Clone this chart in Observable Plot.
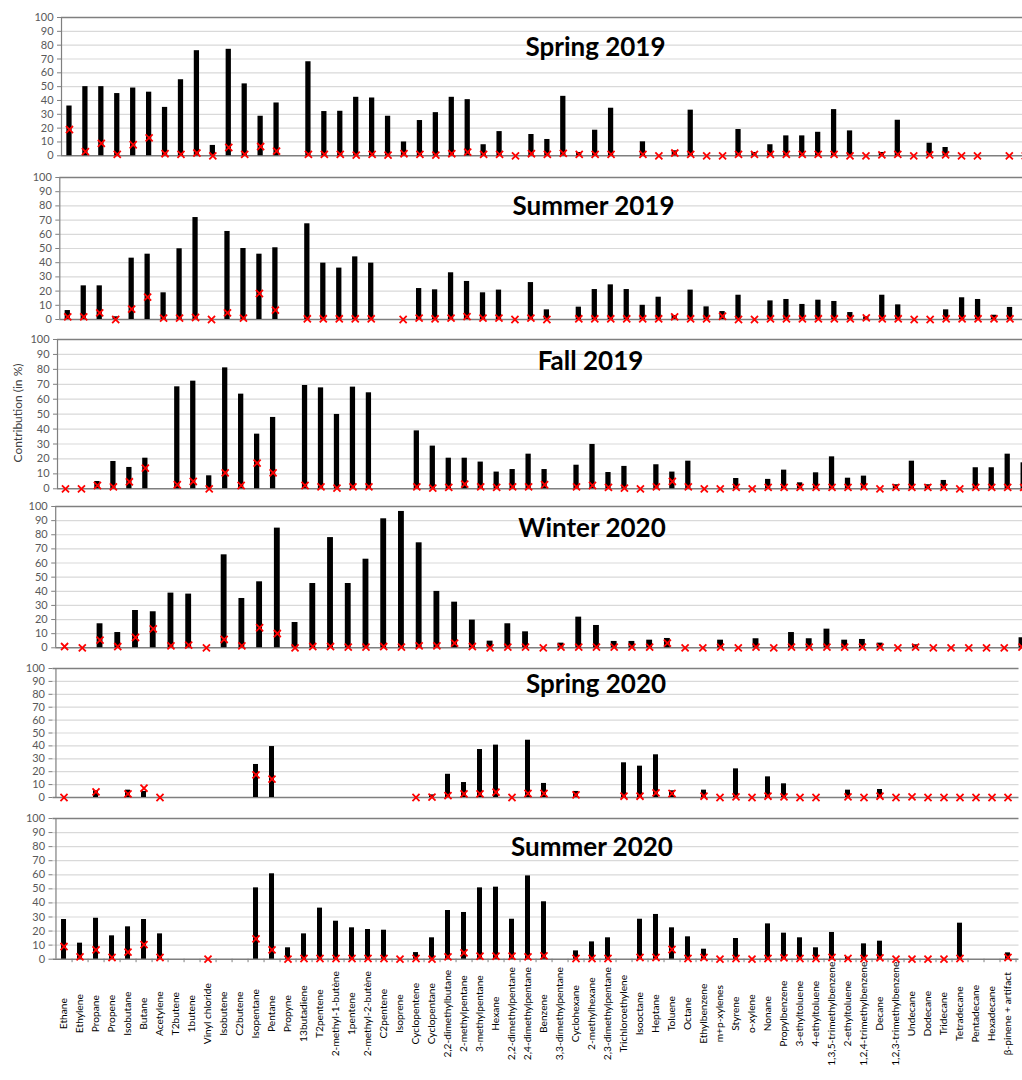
<!DOCTYPE html>
<html>
<head>
<meta charset="utf-8">
<script src="https://cdn.jsdelivr.net/npm/d3@7"></script>
<script src="https://cdn.jsdelivr.net/npm/@observablehq/plot@0.6"></script>
<style>
html, body { margin: 0; padding: 0; background: #fff; overflow: hidden; width: 1022px; height: 1080px; }
#fig { position: relative; width: 1022px; height: 1080px; overflow: hidden; font-family: Lato, "Open Sans", sans-serif; }
.panel { position: absolute; left: 0; }
#ylab { position: absolute; left: 17.5px; top: 413px; transform: translate(-50%, -50%) rotate(-90deg); white-space: nowrap; font-size: 12px; line-height: 1; color: #404040; font-family: Lato, sans-serif; }
</style>
</head>
<body>
<div id="fig"><div id="ylab">Contribution (in %)</div></div>
<script>
// ---------------- DATA ----------------
// Category labels of the two 2020 panels (only the bottom panel shows them)
const compounds = ["Ethane","Ethylene","Propane","Propene","Isobutane","Butane","Acetylene","T2butene","1butene","Vinyl chloride","Isobutene","C2butene","Isopentane","Pentane","Propyne","13butadiene","T2pentene","2-methyl-1-butène","1pentene","2-methyl-2-butène","C2pentene","Isoprene","Cyclopentene","Cyclopentane","2,2-dimethylbutane","2-methylpentane","3-methylpentane","Hexane","2,2-dimethylpentane","2,4-dimethylpentane","Benzene","3,3-dimethylpentane","Cyclohexane","2-methylhexane","2,3-dimethylpentane","Trichloroethylene","Isooctane","Heptane","Toluene","Octane","Ethylbenzene","m+p-xylenes","Styrene","o-xylene","Nonane","Propylbenzene","3-ethyltoluene","4-ethyltoluene","1,3,5-trimethylbenzene","2-ethyltoluene","1,2,4-trimethylbenzene","Decane","1,2,3-trimethylbenzene","Undecane","Dodecane","Tridecane","Tetradecane","Pentadecane","Hexadecane","β-pinene + artifact"];

const panelTitles = ["Spring 2019","Summer 2019","Fall 2019","Winter 2020","Spring 2020","Summer 2020"];
const yTicks = [0,10,20,30,40,50,60,70,80,90,100];

// Spring 2019 (61 categories, last one cropped at the right edge); null = nothing drawn
const spring2019Bars = [36,50,50,45,49,46,35,55,76,7.5,77,52,28.6,38.2,null,68,32,32.2,42.3,41.8,28.6,10,25.5,31.2,42.3,40.6,8,17.5,null,15.4,11.8,43,2.4,18.5,34.4,null,10.1,null,3.6,33,null,null,19,2.4,8,14.4,14.4,17,33.4,18,null,2.4,25.7,null,9.1,6,null,null,null,null,null];
const spring2019Marks = [19,3,9,1,8,13,1.5,1,2,0,6,1,6.7,3.4,null,1,1,1,0.5,1,0.5,1.5,1,0.5,1.5,2.6,1,1,0,1.5,1,1.7,1,1,1,null,1,0,2,1,0,0,1,1,1,1,1,1,1,0,0,0.7,1,0,0.7,0.7,0,0,null,0,0];

// Summer 2019 (61 categories)
const summer2019Bars = [6.3,23.7,23.7,1.9,43.2,46,18.8,49.8,71.8,null,62,50,46,50.5,null,67.4,39.7,36.2,44.1,39.7,null,null,21.8,20.9,32.9,26.8,18.8,20.7,null,26,6.8,null,8.7,21.1,24.4,21.1,10,15.7,2.8,20.7,8.9,5.6,17.1,null,13.1,14.1,10.6,13.6,12.7,4.9,1.9,17.1,10.3,null,null,6.8,15.3,14.1,3,8.5,null];
const summer2019Marks = [1.9,1.9,4.7,0,7.3,15.7,1,1,1.4,0,4.7,1,18.3,6.6,null,0.5,0.5,0.5,0.5,0.5,null,0,1,0.5,1,2,1,1,0,1,0,null,0.5,0.5,0.5,0.5,0.5,0.5,1.9,0.5,0.5,2.3,0,0,0.5,0.5,0.5,0.5,0.5,0.5,1.2,0.5,0.5,0,0,0.5,0.5,0.5,0.5,0.5,0];

// Fall 2019 (61 categories)
const fall2019Bars = [null,null,4.9,18.3,14.3,20.5,null,68.3,72.1,8.7,81,63.4,36.6,47.8,null,69.2,67.6,49.8,68.1,64.3,null,null,38.8,28.6,20.5,20.5,17.9,11.2,12.9,23.2,12.9,null,15.8,29.7,10.9,15,null,16.1,11.2,18.5,null,null,6.9,null,6.3,12.5,4,10.7,21.4,7.1,8.5,null,2.7,18.5,2.7,5.6,null,14.1,14.1,23.2,17.4];
const fall2019Marks = [0,0,2.2,1.3,4.7,13.8,null,2.7,4.9,0,10.7,2.2,17.2,10.7,null,2.2,1.3,0.4,1.3,1.3,null,null,1.3,0.4,0.9,3.1,1.3,0.9,1.3,1.3,2.7,null,1.3,2.2,0.9,0.4,0,1.3,4.9,1.3,0,0,0.9,0,0.9,0.9,0.9,0.9,0.9,0.9,1.3,0,0.9,0.9,0.9,0.9,0,0.9,0.9,0.9,0.9];

// Winter 2020 (55 categories, last one cropped)
const winter2020Bars = [null,null,17,10.8,26.4,25.5,38.7,38,null,65.8,34.9,46.7,84.7,17.9,45.5,78,45.5,62.7,91.3,96.5,74.3,39.9,32.3,19.6,4.7,17,11.3,null,3.3,21.7,15.8,4.5,4.5,5.4,6.6,null,null,5.4,null,6.4,null,10.8,6.4,13.2,5.4,5.9,3.3,null,2.1,null,null,null,null,null,7.1];
const winter2020Marks = [0.9,0,5.4,0.9,7.3,13.4,1.4,1.9,0,5.9,1.4,14.2,10.1,0,0.9,0.9,0.5,0.5,0.9,0.5,1.4,1.4,3.3,0.9,0,0.5,0.5,0,0.5,0.5,0.5,0.5,0.5,0.5,3.3,0,0,0.5,0,0.5,0,0.5,0.5,0.5,0.5,0.5,0.5,0,0.5,0,0,0,0,0,0.5];

// Spring 2020 (same 60 compounds as Summer 2020)
const spring2020Bars = [null,null,5.2,null,5.7,4.7,null,null,null,null,null,null,25.6,39.5,null,null,null,null,null,null,null,null,null,2,18,11.6,37.2,40.6,null,44.4,10.9,null,4.7,null,null,26.9,24.3,33.1,5.2,null,5.7,null,22.2,null,16,10.6,null,null,null,5.7,null,6.2,null,null,null,null,null,null,null,null];
const spring2020Marks = [0,null,4.4,null,2.8,7.2,0,null,null,null,null,null,17.6,14.2,null,null,null,null,null,null,null,null,0,0.3,1.5,2.8,2.8,4.1,0,3.1,3.1,null,2,null,null,1,1,3.6,3.1,null,1,0,0.5,0,1,0.5,0,0,null,0.5,0,1,0,0.5,0,0,0,0,0,0];

// Summer 2020
const summer2020Bars = [28.2,11.4,29.1,16.6,23,28.2,18,null,null,null,null,null,50.7,60.7,8.1,18,36.3,27,22.3,21.1,20.6,null,4.7,15.2,34.6,33.2,50.7,51.2,28.4,59.2,40.8,null,5.9,12.3,15.2,null,28.4,31.8,22.3,15.9,7.1,null,14.7,null,25.1,18.5,15.2,8.1,19,1.4,10.9,12.8,null,null,null,null,25.6,null,null,4.5];
const summer2020Marks = [9,1.7,6.6,1.2,5,10.4,1.2,null,null,0,null,null,14.5,6.6,0,0.5,0.5,0.5,0.5,0.5,0.5,0,0.5,0,1.7,4.5,2.1,2.1,2.1,1.7,2.4,null,0.5,0.5,0.5,null,1.2,1.2,6.9,0.5,1.2,0,0.5,0,0.5,0.9,0.5,0.5,1.2,0.5,0.5,0.9,0,0,0,0,0.5,null,null,1.2];

// ---------------- LAYOUT (pixel geometry only) ----------------
const idx = n => d3.range(n);
const panels = [
  {title: panelTitles[0], bars: spring2019Bars, marks: spring2019Marks, cats: idx(61), y100: 17,    y0: 155.3, left: 61,   step: 15.93, tx: 595,   ty: 47},
  {title: panelTitles[1], bars: summer2019Bars, marks: summer2019Marks, cats: idx(61), y100: 176.7, y0: 318.7, left: 59.3, step: 15.97, tx: 593,   ty: 206},
  {title: panelTitles[2], bars: fall2019Bars,   marks: fall2019Marks,   cats: idx(61), y100: 338.7, y0: 488,   left: 57,   step: 15.97, tx: 590,   ty: 361},
  {title: panelTitles[3], bars: winter2020Bars, marks: winter2020Marks, cats: idx(55), y100: 506,   y0: 647.3, left: 55.2, step: 17.73, tx: 591.5, ty: 528},
  {title: panelTitles[4], bars: spring2020Bars, marks: spring2020Marks, cats: compounds, y100: 667.7, y0: 796.7, left: 52.5, step: 16.1, tx: 595.5, ty: 684},
  {title: panelTitles[5], bars: summer2020Bars, marks: summer2020Marks, cats: compounds, y100: 818.3, y0: 959,   left: 52.5, step: 16.1, tx: 591.5, ty: 847, showX: true}
];

const fig = document.getElementById("fig");
const axisGray = "#7f7f7f";

for (const p of panels) {
  const N = p.cats.length;
  const plotH = p.y0 - p.y100;
  const mt = 10, mb = p.showX ? 125 : 6;
  const plotW = N * p.step;
  const width = Math.ceil(p.left + plotW + 3);
  const rows = p.cats.map((c, i) => ({c, bar: p.bars[i], mark: p.marks[i]}));
  const pxPerUnit = plotH / 100;

  const marks = [
    Plot.gridY({ticks: yTicks.slice(1, -1), stroke: "#d9d9d9", strokeOpacity: 1, strokeWidth: 1.2}),
    Plot.axisY({ticks: yTicks, tickSize: 4, tickPadding: 4, fontSize: 11, label: null, stroke: axisGray, fill: "#595959"}),
    Plot.ruleY([0, 100], {stroke: axisGray, strokeWidth: 1.4}),
    Plot.ruleX([p.cats[0]], {dx: -p.step / 2, y1: 0, y2: 100, stroke: axisGray, strokeWidth: 1.2}),
    Plot.barY(rows.filter(d => d.bar != null), {x: "c", y: "bar", fill: "#000"}),
    Plot.dot(rows.filter(d => d.mark != null), {x: "c", y: "mark", symbol: "times", r: 3.3, stroke: "#ff0000", strokeWidth: 1.8}),
    Plot.text([p.title], {frameAnchor: "top-left", dx: p.tx - p.left, dy: p.ty - p.y100, text: d => d,
      fontSize: 26, fontWeight: "bold", fill: "#000", textAnchor: "middle", lineAnchor: "middle", fontFamily: "Lato"})
  ];
  if (p.showX) {
    marks.push(
      Plot.ruleX(p.cats, {x: d => d, dx: p.step / 2, y1: 0, y2: -3.5 / pxPerUnit, stroke: axisGray}),
      Plot.text(p.cats, {x: d => d, text: d => d, frameAnchor: "bottom", dy: 54.5, rotate: -90,
        textAnchor: "middle", lineAnchor: "middle", fontSize: 10.2, fill: "#000", fontFamily: "Lato"})
    );
  }

  const svg = Plot.plot({
    width,
    height: mt + plotH + mb,
    marginTop: mt,
    marginBottom: mb,
    marginLeft: p.left,
    marginRight: width - p.left - plotW,
    x: {domain: p.cats, paddingInner: 0.67, paddingOuter: 0.335, axis: null},
    y: {domain: [0, 100]},
    style: {background: "transparent", overflow: "visible", maxWidth: "none", color: "#595959", fontFamily: "Lato, sans-serif"},
    marks
  });
  const holder = document.createElement("div");
  holder.className = "panel";
  holder.style.top = (p.y100 - mt) + "px";
  holder.appendChild(svg);
  fig.appendChild(holder);
}
</script>
</body>
</html>
